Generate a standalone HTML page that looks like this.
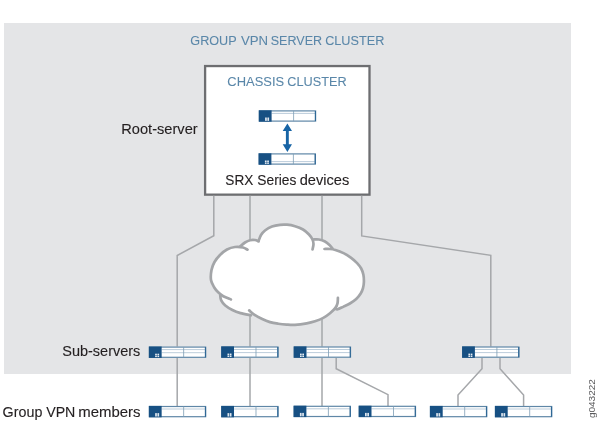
<!DOCTYPE html>
<html><head><meta charset="utf-8">
<style>
html,body{margin:0;padding:0;background:#fff;}
body{width:600px;height:443px;overflow:hidden;}
svg{display:block;will-change:transform;}
text{font-family:"Liberation Sans",sans-serif;}
</style></head><body>
<svg width="600" height="443" viewBox="0 0 600 443">
<defs>
<g id="devA">
 <rect x="0.6" y="0.6" width="56.2" height="10.2" fill="#fff" stroke="#5f87a7" stroke-width="1.2"/>
 <line x1="12.8" y1="3.1" x2="56.8" y2="3.1" stroke="#a9bfd0" stroke-width="0.8"/>
 <line x1="12.8" y1="6.2" x2="56.8" y2="6.2" stroke="#a9bfd0" stroke-width="0.8"/>
 <line x1="34.8" y1="0.6" x2="34.8" y2="10.8" stroke="#7e9db5" stroke-width="0.8"/>
 <line x1="56.6" y1="0.6" x2="56.6" y2="10.8" stroke="#2f6896" stroke-width="1.2"/>
 <rect x="0" y="0" width="12.8" height="11.4" fill="#175083"/>
 <rect x="6.3" y="7.2" width="1.7" height="1.5" fill="#e8eef4"/>
 <rect x="6.3" y="9.1" width="1.7" height="1.5" fill="#e8eef4"/>
 <rect x="8.6" y="7.2" width="1.7" height="1.5" fill="#e8eef4"/>
 <rect x="8.6" y="9.1" width="1.7" height="1.5" fill="#e8eef4"/>
</g>
<g id="devB">
 <rect x="0.6" y="0.6" width="56.2" height="10.2" fill="#fff" stroke="#5f87a7" stroke-width="1.2"/>
 <line x1="12.8" y1="3.1" x2="56.8" y2="3.1" stroke="#a9bfd0" stroke-width="0.8"/>
 <line x1="34.8" y1="0.6" x2="34.8" y2="10.8" stroke="#7e9db5" stroke-width="0.8"/>
 <line x1="56.6" y1="0.6" x2="56.6" y2="10.8" stroke="#2f6896" stroke-width="1.2"/>
 <rect x="0" y="0" width="12.8" height="11.4" fill="#175083"/>
 <rect x="6.3" y="7.2" width="1.7" height="3.4" fill="#dfe7ef"/>
 <rect x="8.6" y="7.2" width="1.7" height="3.4" fill="#dfe7ef"/>
</g>
<g id="devC">
 <rect x="0.6" y="0.6" width="56.2" height="10.2" fill="#fff" stroke="#5f87a7" stroke-width="1.2"/>
 <line x1="12.8" y1="8.3" x2="56.8" y2="8.3" stroke="#a9bfd0" stroke-width="0.8"/>
 <line x1="34.8" y1="0.6" x2="34.8" y2="10.8" stroke="#7e9db5" stroke-width="0.8"/>
 <line x1="56.6" y1="0.6" x2="56.6" y2="10.8" stroke="#2f6896" stroke-width="1.2"/>
 <rect x="0" y="0" width="12.8" height="11.4" fill="#175083"/>
 <rect x="6.3" y="7.2" width="1.7" height="1.5" fill="#e8eef4"/>
 <rect x="6.3" y="9.1" width="1.7" height="1.5" fill="#e8eef4"/>
 <rect x="8.6" y="7.2" width="1.7" height="1.5" fill="#e8eef4"/>
 <rect x="8.6" y="9.1" width="1.7" height="1.5" fill="#e8eef4"/>
</g>
</defs>
<rect x="4" y="23" width="567" height="351" fill="#e4e5e7"/>
<rect x="205.1" y="66.05" width="164.4" height="128.6" fill="#fff" stroke="#6d6e71" stroke-width="2.3"/>
<text x="190.35" y="45.25" font-size="13.7" fill="#5a87a9" stroke="#5a87a9" stroke-width="0.08" textLength="46.33" lengthAdjust="spacingAndGlyphs">GROUP</text>
<text x="240.90" y="45.25" font-size="13.7" fill="#5a87a9" stroke="#5a87a9" stroke-width="0.08" textLength="27.13" lengthAdjust="spacingAndGlyphs">VPN</text>
<text x="270.75" y="45.25" font-size="13.7" fill="#5a87a9" stroke="#5a87a9" stroke-width="0.08" textLength="51.38" lengthAdjust="spacingAndGlyphs">SERVER</text>
<text x="325.15" y="45.25" font-size="13.7" fill="#5a87a9" stroke="#5a87a9" stroke-width="0.08" textLength="59.14" lengthAdjust="spacingAndGlyphs">CLUSTER</text>
<text x="227.34" y="86.0" font-size="13.7" fill="#5a87a9" stroke="#5a87a9" stroke-width="0.08" textLength="56.77" lengthAdjust="spacingAndGlyphs">CHASSIS</text>
<text x="287.35" y="86.0" font-size="13.7" fill="#5a87a9" stroke="#5a87a9" stroke-width="0.08" textLength="59.34" lengthAdjust="spacingAndGlyphs">CLUSTER</text>
<text x="121.31" y="133.5" font-size="14.7" fill="#231f20" stroke="#231f20" stroke-width="0.12" textLength="76.38" lengthAdjust="spacingAndGlyphs">Root-server</text>
<text x="225.35" y="184.75" font-size="14.7" fill="#231f20" stroke="#231f20" stroke-width="0.12" textLength="27.95" lengthAdjust="spacingAndGlyphs">SRX</text>
<text x="257.35" y="184.75" font-size="14.7" fill="#231f20" stroke="#231f20" stroke-width="0.12" textLength="38.99" lengthAdjust="spacingAndGlyphs">Series</text>
<text x="299.70" y="184.75" font-size="14.7" fill="#231f20" stroke="#231f20" stroke-width="0.12" textLength="49.54" lengthAdjust="spacingAndGlyphs">devices</text>
<text x="62.31" y="355.75" font-size="14.7" fill="#231f20" stroke="#231f20" stroke-width="0.12" textLength="78.02" lengthAdjust="spacingAndGlyphs">Sub-servers</text>
<text x="2.62" y="416.5" font-size="14.7" fill="#231f20" stroke="#231f20" stroke-width="0.12" textLength="39.72" lengthAdjust="spacingAndGlyphs">Group</text>
<text x="46.20" y="416.5" font-size="14.7" fill="#231f20" stroke="#231f20" stroke-width="0.12" textLength="29.18" lengthAdjust="spacingAndGlyphs">VPN</text>
<text x="78.28" y="416.5" font-size="14.7" fill="#231f20" stroke="#231f20" stroke-width="0.12" textLength="62.29" lengthAdjust="spacingAndGlyphs">members</text>
<text transform="translate(595.2,418.11) rotate(-90)" font-size="9.9" fill="#5a5a5c" stroke="#5a5a5c" stroke-width="0" textLength="39.05" lengthAdjust="spacingAndGlyphs">g043222</text>

<path d="M287.4 123.4 L292 131 H288.8 V144.3 H292 L287.4 151.9 L282.7 144.3 H285.9 V131 H282.7 Z" fill="#1764a5"/>
<g fill="none" stroke="#a5a7aa" stroke-width="1.5">
<path d="M213.8 195.8 V235.7 L177.2 255.5 V346.5"/><path d="M250 195.8 V241"/><path d="M322 195.8 V240"/><path d="M361.7 195.8 V235.9 L490.8 255.3 V346.5"/><path d="M250 313 V346.5"/><path d="M322 319 V346.5"/><path d="M177.2 358 V406"/><path d="M250 358 V406"/><path d="M322 358 V406"/><path d="M336.2 358 V368.7 L388 394.7 V406"/><path d="M482 358 V368.8 L458 395.1 V406"/><path d="M500 358 V368.8 L523.6 395.1 V406"/>
</g>
<path d="M240.00 246.50 C238.33 247.25 237.17 246.50 235.00 247.00 C232.83 247.50 229.50 248.17 227.00 249.50 C224.50 250.83 222.08 252.92 220.00 255.00 C217.92 257.08 215.92 259.50 214.50 262.00 C213.08 264.50 212.08 267.00 211.50 270.00 C210.92 273.00 210.57 277.13 211.00 280.00 C211.43 282.87 212.57 284.65 214.10 287.20 C215.63 289.75 219.02 293.10 220.20 295.30 C221.38 297.50 220.35 298.70 221.20 300.40 C222.05 302.10 223.43 303.90 225.30 305.50 C227.17 307.10 229.87 308.73 232.40 310.00 C234.93 311.27 237.02 312.33 240.50 313.10 C243.98 313.87 249.77 313.66 253.30 314.60 C256.83 315.54 258.92 317.50 261.70 318.75 C264.48 320.00 267.23 321.27 270.00 322.10 C272.77 322.93 275.52 323.33 278.30 323.75 C281.08 324.17 283.92 324.43 286.70 324.60 C289.48 324.78 291.67 325.02 295.00 324.80 C298.33 324.58 303.37 323.89 306.70 323.30 C310.03 322.71 312.23 322.15 315.00 321.25 C317.77 320.35 320.80 319.22 323.30 317.90 C325.80 316.57 327.80 314.85 330.00 313.30 C332.20 311.75 334.25 309.72 336.50 308.60 C338.75 307.48 341.27 307.45 343.50 306.60 C345.73 305.75 347.78 304.77 349.90 303.50 C352.02 302.23 354.40 300.67 356.20 299.00 C358.00 297.33 359.57 295.32 360.70 293.50 C361.83 291.68 362.47 290.02 363.00 288.10 C363.53 286.18 363.83 284.22 363.90 282.00 C363.97 279.78 363.85 277.05 363.40 274.80 C362.95 272.55 362.25 270.45 361.20 268.50 C360.15 266.55 358.83 264.92 357.10 263.10 C355.37 261.28 353.07 259.27 350.80 257.60 C348.53 255.93 346.07 254.37 343.50 253.10 C340.93 251.83 337.32 250.85 335.40 250.00 C333.48 249.15 332.98 248.83 332.00 248.00 C331.02 247.17 330.67 246.08 329.50 245.00 C328.33 243.92 326.75 242.42 325.00 241.50 C323.25 240.58 321.00 239.83 319.00 239.50 C317.00 239.17 314.67 240.33 313.00 239.50 C311.33 238.67 310.67 236.17 309.00 234.50 C307.33 232.83 305.33 230.88 303.00 229.50 C300.67 228.12 297.67 227.00 295.00 226.20 C292.33 225.40 289.50 224.93 287.00 224.70 C284.50 224.47 282.50 224.50 280.00 224.80 C277.50 225.10 274.50 225.55 272.00 226.50 C269.50 227.45 266.83 229.08 265.00 230.50 C263.17 231.92 262.08 233.22 261.00 235.00 C259.92 236.78 259.50 240.37 258.50 241.20 C257.50 242.03 256.42 240.17 255.00 240.00 C253.58 239.83 251.67 239.78 250.00 240.20 C248.33 240.62 246.67 241.45 245.00 242.50 C243.33 243.55 241.67 245.75 240.00 246.50 Z" fill="#fff"/><g fill="none" stroke="#a3a5a8" stroke-width="2.7" stroke-linecap="round"><path d="M247.50 249.70 C246.75 249.33 245.08 247.95 243.00 247.50 C240.92 247.05 237.67 246.67 235.00 247.00 C232.33 247.33 229.50 248.17 227.00 249.50 C224.50 250.83 222.08 252.92 220.00 255.00 C217.92 257.08 215.92 259.50 214.50 262.00 C213.08 264.50 212.08 267.00 211.50 270.00 C210.92 273.00 210.57 277.13 211.00 280.00 C211.43 282.87 212.90 285.15 214.10 287.20 C215.30 289.25 216.67 290.78 218.20 292.30 C219.73 293.82 221.18 295.12 223.30 296.30 C225.42 297.48 229.63 298.88 230.90 299.40"/><path d="M220.20 295.30 C220.37 296.15 220.35 298.70 221.20 300.40 C222.05 302.10 223.43 303.90 225.30 305.50 C227.17 307.10 229.87 308.73 232.40 310.00 C234.93 311.27 237.40 312.22 240.50 313.10 C243.60 313.98 249.25 314.93 251.00 315.30"/><path d="M249.20 310.40 C250.03 311.10 252.12 313.21 254.20 314.60 C256.28 315.99 259.07 317.50 261.70 318.75 C264.33 320.00 267.23 321.27 270.00 322.10 C272.77 322.93 275.52 323.33 278.30 323.75 C281.08 324.17 283.92 324.43 286.70 324.60 C289.48 324.78 291.67 325.02 295.00 324.80 C298.33 324.58 303.37 323.89 306.70 323.30 C310.03 322.71 312.23 322.15 315.00 321.25 C317.77 320.35 320.80 319.22 323.30 317.90 C325.80 316.57 327.98 314.97 330.00 313.30 C332.02 311.63 334.15 309.57 335.40 307.90 C336.65 306.23 337.08 304.97 337.50 303.30 C337.92 301.63 337.83 298.80 337.90 297.90"/><path d="M335.40 308.60 C335.78 308.72 336.35 309.63 337.70 309.30 C339.05 308.97 341.47 307.57 343.50 306.60 C345.53 305.63 347.78 304.77 349.90 303.50 C352.02 302.23 354.40 300.67 356.20 299.00 C358.00 297.33 359.57 295.32 360.70 293.50 C361.83 291.68 362.47 290.02 363.00 288.10 C363.53 286.18 363.83 284.22 363.90 282.00 C363.97 279.78 363.85 277.05 363.40 274.80 C362.95 272.55 362.25 270.45 361.20 268.50 C360.15 266.55 358.83 264.92 357.10 263.10 C355.37 261.28 353.07 259.27 350.80 257.60 C348.53 255.93 346.07 254.37 343.50 253.10 C340.93 251.83 337.65 250.68 335.40 250.00 C333.15 249.32 331.82 249.17 330.00 249.00 C328.18 248.83 325.42 249.00 324.50 249.00"/><path d="M313.00 239.50 C314.00 239.50 317.00 239.17 319.00 239.50 C321.00 239.83 323.25 240.58 325.00 241.50 C326.75 242.42 328.25 243.83 329.50 245.00 C330.75 246.17 332.00 247.92 332.50 248.50"/><path d="M258.50 241.20 C258.92 240.17 259.92 236.78 261.00 235.00 C262.08 233.22 263.17 231.92 265.00 230.50 C266.83 229.08 269.50 227.45 272.00 226.50 C274.50 225.55 277.50 225.10 280.00 224.80 C282.50 224.50 284.50 224.47 287.00 224.70 C289.50 224.93 292.33 225.40 295.00 226.20 C297.67 227.00 300.67 228.12 303.00 229.50 C305.33 230.88 307.42 232.83 309.00 234.50 C310.58 236.17 311.75 237.92 312.50 239.50 C313.25 241.08 313.50 242.33 313.50 244.00 C313.50 245.67 312.67 248.58 312.50 249.50"/><path d="M240.00 246.50 C240.83 245.83 243.33 243.55 245.00 242.50 C246.67 241.45 248.33 240.62 250.00 240.20 C251.67 239.78 253.58 239.83 255.00 240.00 C256.42 240.17 257.92 241.00 258.50 241.20"/></g>
<use href="#devB" x="258.8" y="110.3"/><use href="#devC" x="258.6" y="153.3"/><use href="#devA" x="148.85" y="346.5"/><use href="#devA" x="221.2" y="346.4"/><use href="#devA" x="293.7" y="346.4"/><use href="#devA" x="462.1" y="346.4"/><use href="#devB" x="148.85" y="405.9"/><use href="#devB" x="221.2" y="405.9"/><use href="#devB" x="293.6" y="405.7"/><use href="#devB" x="358.7" y="405.7"/><use href="#devB" x="429.9" y="405.9"/><use href="#devB" x="494.9" y="405.9"/>
</svg>
</body></html>
